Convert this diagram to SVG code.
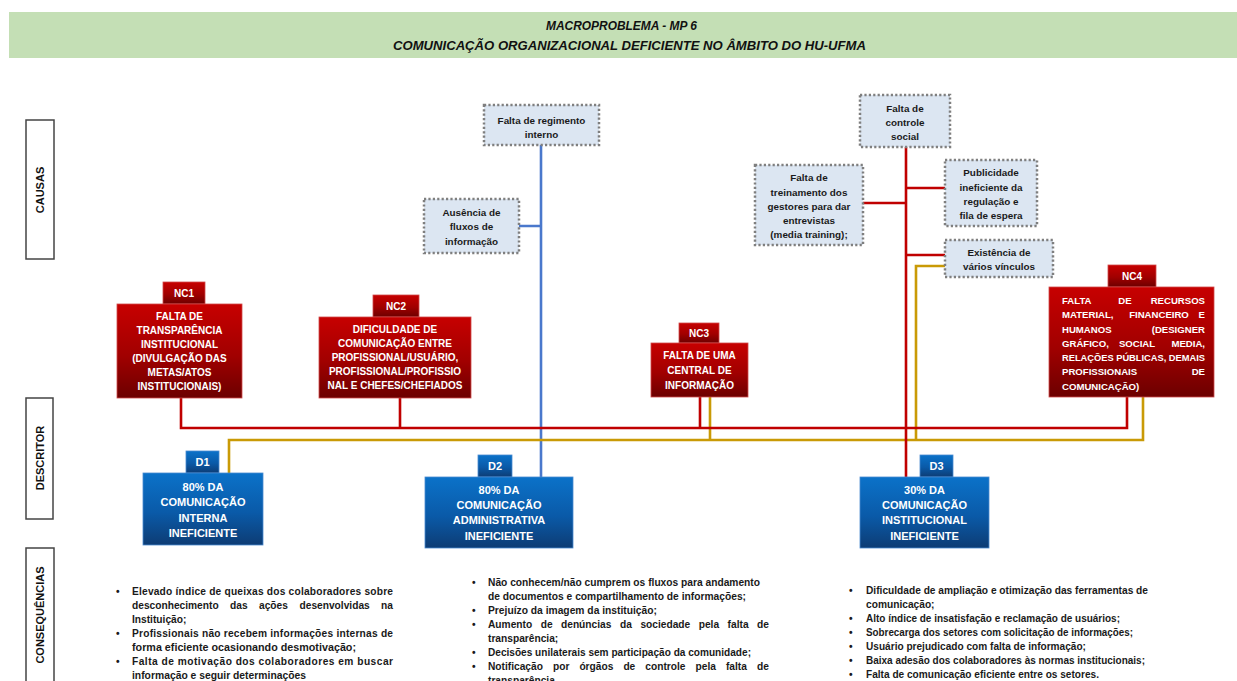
<svg xmlns="http://www.w3.org/2000/svg" width="1237" height="681" viewBox="0 0 1237 681">
  <defs>
    <linearGradient id="redGrad" x1="0" y1="0" x2="0" y2="1">
      <stop offset="0" stop-color="#c70000"/>
      <stop offset="0.55" stop-color="#a10000"/>
      <stop offset="1" stop-color="#6c0000"/>
    </linearGradient>
    <linearGradient id="blueGrad" x1="0" y1="0" x2="0" y2="1">
      <stop offset="0" stop-color="#0b72c9"/>
      <stop offset="0.55" stop-color="#0a5aa8"/>
      <stop offset="1" stop-color="#0d3c74"/>
    </linearGradient>
    <style>
      .hdr { font-family: "Liberation Sans", Arial, sans-serif; font-weight: bold; font-style: italic; font-size: 13px; fill: #111; text-anchor: middle; }
      .side { fill: #fff; stroke: #444; stroke-width: 1.5; }
      .sideTxt { font-family: "Liberation Sans", Arial, sans-serif; font-weight: bold; font-size: 11px; fill: #111; text-anchor: middle; }
      .cause rect { fill: #dce6f2; stroke: #7f7f7f; stroke-width: 2.5; stroke-dasharray: 2.2 2.2; }
      .cause text { font-family: "Liberation Sans", Arial, sans-serif; font-weight: bold; font-size: 9.9px; fill: #1a1a1a; text-anchor: middle; }
      .nc rect { fill: url(#redGrad); stroke: #d04a4a; stroke-width: 0.8; }
      .desc rect { fill: url(#blueGrad); stroke: #4a8ad0; stroke-width: 0.8; }
      .nc text, .desc text { font-family: "Liberation Sans", Arial, sans-serif; font-weight: bold; font-size: 10px; fill: #fff; text-anchor: middle; }
      .desc text { font-size: 11px; }
      .nc4txt text { font-size: 9.6px; }
      .nc .l { text-anchor: start; }
      .nc .r { text-anchor: end; }
      .cons text { font-family: "Liberation Sans", Arial, sans-serif; font-weight: bold; font-size: 10.2px; fill: #1a1a1a; }
      .cons .r { text-anchor: end; }
      .red { stroke: #c00000; stroke-width: 2.6; fill: none; }
      .gold { stroke: #c99a06; stroke-width: 2.6; fill: none; }
      .blue { stroke: #4a78cc; stroke-width: 2.6; fill: none; }
    </style>
  </defs>

  <rect width="1237" height="681" fill="#ffffff"/>

  <!-- title band -->
  <g id="title">
    <rect x="9" y="12" width="1228" height="46" fill="#c4dfb5"/>
    <text class="hdr" x="621.5" y="30" textLength="151" lengthAdjust="spacingAndGlyphs">MACROPROBLEMA - MP 6</text>
    <text class="hdr" x="629.5" y="50" textLength="473" lengthAdjust="spacingAndGlyphs">COMUNICAÇÃO ORGANIZACIONAL DEFICIENTE NO ÂMBITO DO HU-UFMA</text>
  </g>

  <!-- row labels -->
  <g id="label-causas">
    <rect class="side" x="26" y="120" width="28" height="139"/>
    <text class="sideTxt" transform="translate(44,190) rotate(-90)">CAUSAS</text>
  </g>
  <g id="label-descritor">
    <rect class="side" x="26" y="398" width="27" height="121"/>
    <text class="sideTxt" transform="translate(43.5,458) rotate(-90)">DESCRITOR</text>
  </g>
  <g id="label-consequencias">
    <rect class="side" x="26" y="548" width="28" height="140"/>
    <text class="sideTxt" transform="translate(44,615) rotate(-90)">CONSEQUÊNCIAS</text>
  </g>

  <!-- connectors -->
  <g id="connectors">
    <path class="blue" d="M541,145 V477 M519,226 H541"/>
    <path class="gold" d="M945,266 H916 V440 M229,473 V440 H1143 V397 M710,397 V440"/>
    <path class="red" d="M906,147 V477 M863,203 H906 M906,188 H945 M906,255 H945"/>
    <path class="red" d="M181,398 V428 H1127 V397 M400,398 V428 M700,397 V428"/>
  </g>

  <!-- causes -->
  <g id="cause-regimento" class="cause">
    <rect x="484" y="105" width="115" height="40"/>
    <text x="541.5" y="124">Falta de regimento</text>
    <text x="541.5" y="138">interno</text>
  </g>
  <g id="cause-fluxos" class="cause">
    <rect x="424" y="199" width="95" height="54"/>
    <text x="471.5" y="216">Ausência de</text>
    <text x="471.5" y="230">fluxos de</text>
    <text x="471.5" y="245">informação</text>
  </g>
  <g id="cause-controle" class="cause">
    <rect x="860" y="95" width="90" height="52"/>
    <text x="905" y="112">Falta de</text>
    <text x="905" y="126">controle</text>
    <text x="905" y="140">social</text>
  </g>
  <g id="cause-treinamento" class="cause">
    <rect x="755" y="165" width="108" height="80"/>
    <text x="809" y="181">Falta de</text>
    <text x="809" y="196">treinamento dos</text>
    <text x="809" y="210">gestores para dar</text>
    <text x="809" y="224">entrevistas</text>
    <text x="809" y="238">(media training);</text>
  </g>
  <g id="cause-publicidade" class="cause">
    <rect x="945" y="160" width="92" height="66"/>
    <text x="991" y="176">Publicidade</text>
    <text x="991" y="191">ineficiente da</text>
    <text x="991" y="205">regulação e</text>
    <text x="991" y="219">fila de espera</text>
  </g>
  <g id="cause-vinculos" class="cause">
    <rect x="945" y="240" width="108" height="37"/>
    <text x="999" y="256">Existência de</text>
    <text x="999" y="270">vários vínculos</text>
  </g>

  <!-- critical nodes -->
  <g id="nc1" class="nc">
    <rect x="163" y="282" width="42" height="22"/>
    <text x="184" y="297">NC1</text>
    <rect x="117" y="304" width="125" height="94"/>
    <text x="179.5" y="320">FALTA DE</text>
    <text x="179.5" y="334">TRANSPARÊNCIA</text>
    <text x="179.5" y="348">INSTITUCIONAL</text>
    <text x="179.5" y="362">(DIVULGAÇÃO DAS</text>
    <text x="179.5" y="376">METAS/ATOS</text>
    <text x="179.5" y="390">INSTITUCIONAIS)</text>
  </g>
  <g id="nc2" class="nc">
    <rect x="373" y="295" width="46" height="22"/>
    <text x="396" y="310">NC2</text>
    <rect x="319" y="317" width="152" height="81"/>
    <text x="395" y="333">DIFICULDADE DE</text>
    <text x="395" y="347">COMUNICAÇÃO ENTRE</text>
    <text x="395" y="361">PROFISSIONAL/USUÁRIO,</text>
    <text x="395" y="375">PROFISSIONAL/PROFISSIO</text>
    <text x="395" y="389">NAL E CHEFES/CHEFIADOS</text>
  </g>
  <g id="nc3" class="nc">
    <rect x="679" y="323" width="40" height="20"/>
    <text x="699" y="337">NC3</text>
    <rect x="651" y="343" width="97" height="54"/>
    <text x="699.5" y="359">FALTA DE UMA</text>
    <text x="699.5" y="374">CENTRAL DE</text>
    <text x="699.5" y="389">INFORMAÇÃO</text>
  </g>
  <g id="nc4" class="nc">
    <rect x="1108" y="265" width="48" height="22"/>
    <text x="1132" y="280">NC4</text>
    <rect x="1049" y="287" width="165" height="110"/>
    <g class="nc4txt">
      <text class="l" x="1062" y="304">FALTA</text>
      <text x="1125" y="304">DE</text>
      <text class="r" x="1205" y="304">RECURSOS</text>
      <text class="l" x="1062" y="318">MATERIAL,</text>
      <text x="1159" y="318">FINANCEIRO</text>
      <text class="r" x="1205" y="318">E</text>
      <text class="l" x="1062" y="333">HUMANOS</text>
      <text class="r" x="1205" y="333">(DESIGNER</text>
      <text class="l" x="1062" y="347">GRÁFICO,</text>
      <text x="1137" y="347">SOCIAL</text>
      <text class="r" x="1205" y="347">MEDIA,</text>
      <text class="l" x="1062" y="361" textLength="143" lengthAdjust="spacingAndGlyphs">RELAÇÕES PÚBLICAS, DEMAIS</text>
      <text class="l" x="1062" y="375">PROFISSIONAIS</text>
      <text class="r" x="1205" y="375">DE</text>
      <text class="l" x="1062" y="390">COMUNICAÇÃO)</text>
    </g>
  </g>

  <!-- descriptors -->
  <g id="d1" class="desc">
    <rect x="186" y="451" width="33" height="22"/>
    <text x="202.5" y="466">D1</text>
    <rect x="143" y="473" width="120" height="72"/>
    <text x="203" y="491">80%  DA</text>
    <text x="203" y="506">COMUNICAÇÃO</text>
    <text x="203" y="522">INTERNA</text>
    <text x="203" y="537">INEFICIENTE</text>
  </g>
  <g id="d2" class="desc">
    <rect x="478" y="455" width="34" height="22"/>
    <text x="495" y="470">D2</text>
    <rect x="425" y="477" width="148" height="71"/>
    <text x="499" y="494">80% DA</text>
    <text x="499" y="509">COMUNICAÇÃO</text>
    <text x="499" y="524">ADMINISTRATIVA</text>
    <text x="499" y="540">INEFICIENTE</text>
  </g>
  <g id="d3" class="desc">
    <rect x="920" y="455" width="33" height="22"/>
    <text x="936.5" y="470">D3</text>
    <rect x="860" y="477" width="129" height="71"/>
    <text x="924.5" y="494">30% DA</text>
    <text x="924.5" y="509">COMUNICAÇÃO</text>
    <text x="924.5" y="524">INSTITUCIONAL</text>
    <text x="924.5" y="540">INEFICIENTE</text>
  </g>

  <!-- consequences -->
  <g id="cons-d1" class="cons">
    <text x="116" y="595">•</text>
    <text x="132" y="595" textLength="261" lengthAdjust="spacing">Elevado índice de queixas dos colaboradores sobre</text>
    <text x="132" y="609">desconhecimento</text>
    <text x="230" y="609">das</text>
    <text x="259" y="609">ações</text>
    <text x="299.5" y="609">desenvolvidas</text>
    <text class="r" x="393" y="609">na</text>
    <text x="132" y="623">Instituição;</text>
    <text x="116" y="637">•</text>
    <text x="132" y="637" textLength="261" lengthAdjust="spacing">Profissionais não recebem informações internas de</text>
    <text x="132" y="651" textLength="224" lengthAdjust="spacingAndGlyphs">forma eficiente ocasionando desmotivação;</text>
    <text x="116" y="665">•</text>
    <text x="132" y="665" textLength="261" lengthAdjust="spacing">Falta de motivação dos colaboradores em buscar</text>
    <text x="132" y="679" textLength="174" lengthAdjust="spacingAndGlyphs">informação e seguir determinações</text>
  </g>
  <g id="cons-d2" class="cons">
    <text x="472" y="586">•</text>
    <text x="488" y="586" textLength="272" lengthAdjust="spacingAndGlyphs">Não conhecem/não cumprem os fluxos para andamento</text>
    <text x="488" y="600" textLength="258" lengthAdjust="spacingAndGlyphs">de documentos e compartilhamento de informações;</text>
    <text x="472" y="614">•</text>
    <text x="488" y="614" textLength="169" lengthAdjust="spacingAndGlyphs">Prejuízo da imagem da instituição;</text>
    <text x="472" y="628">•</text>
    <text x="488" y="628">Aumento</text>
    <text x="540.7" y="628">de</text>
    <text x="561" y="628">denúncias</text>
    <text x="620" y="628">da</text>
    <text x="640.4" y="628">sociedade</text>
    <text x="698.7" y="628">pela</text>
    <text x="727.6" y="628">falta</text>
    <text class="r" x="769" y="628">de</text>
    <text x="488" y="642">transparência;</text>
    <text x="472" y="656">•</text>
    <text x="488" y="656" textLength="263" lengthAdjust="spacingAndGlyphs">Decisões unilaterais sem participação da comunidade;</text>
    <text x="472" y="670">•</text>
    <text x="488" y="670">Notificação</text>
    <text x="553" y="670">por</text>
    <text x="579.4" y="670">órgãos</text>
    <text x="623.4" y="670">de</text>
    <text x="645.3" y="670">controle</text>
    <text x="695.5" y="670">pela</text>
    <text x="725.9" y="670">falta</text>
    <text class="r" x="769" y="670">de</text>
    <text x="488" y="684">transparência</text>
  </g>
  <g id="cons-d3" class="cons">
    <text x="849" y="594">•</text>
    <text x="866" y="594" textLength="282" lengthAdjust="spacingAndGlyphs">Dificuldade de ampliação e otimização das ferramentas de</text>
    <text x="866" y="608">comunicação;</text>
    <text x="849" y="622">•</text>
    <text x="866" y="622" textLength="254" lengthAdjust="spacingAndGlyphs">Alto índice de insatisfação e reclamação de usuários;</text>
    <text x="849" y="636">•</text>
    <text x="866" y="636" textLength="267" lengthAdjust="spacingAndGlyphs">Sobrecarga dos setores com solicitação de informações;</text>
    <text x="849" y="650">•</text>
    <text x="866" y="650" textLength="220" lengthAdjust="spacingAndGlyphs">Usuário prejudicado com falta de informação;</text>
    <text x="849" y="664">•</text>
    <text x="866" y="664" textLength="279" lengthAdjust="spacingAndGlyphs">Baixa adesão dos colaboradores às normas institucionais;</text>
    <text x="849" y="678">•</text>
    <text x="866" y="678" textLength="233" lengthAdjust="spacingAndGlyphs">Falta de comunicação eficiente entre os setores.</text>
  </g>
</svg>
